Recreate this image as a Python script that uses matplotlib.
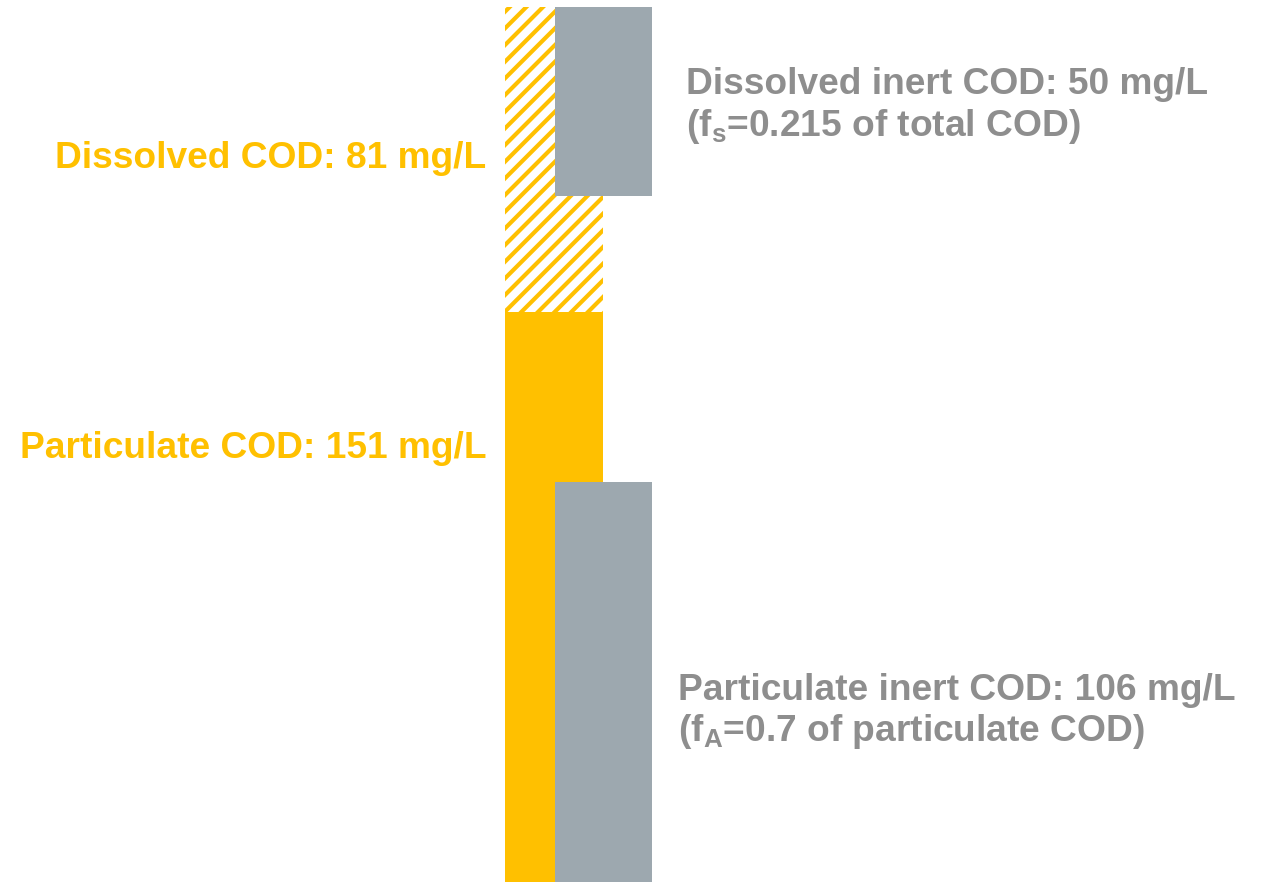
import matplotlib
matplotlib.use("Agg")
import matplotlib.pyplot as plt

plt.rcParams["font.family"] = ["Liberation Sans", "DejaVu Sans"]
plt.rcParams["mathtext.fontset"] = "custom"
plt.rcParams["mathtext.rm"] = "Liberation Sans:bold"
plt.rcParams["mathtext.bf"] = "Liberation Sans:bold"
plt.rcParams["hatch.linewidth"] = 3.0

# COD fractions, mg/L
particulate_cod = 151
dissolved_cod = 81
particulate_inert = 106
dissolved_inert = 50
f_s = 0.215
f_A = 0.7

YELLOW = "#FFC000"
GREY_BAR = "#9DA8AF"
GREY_TEXT = "#8E8E8E"

W, H = 1261, 882
fig = plt.figure(figsize=(W / 100, H / 100), dpi=100)
ax = fig.add_axes([0, 0, 1, 1])
ax.set_xlim(0, W)
total = particulate_cod + dissolved_cod
px_per_unit = 875 / total
top = total + 7 / px_per_unit
ax.set_ylim(0, top)
ax.axis("off")

# horizontal layout (pixels)
x_cod, w_cod = 505, 98
x_inert, w_inert = 555, 97

# total COD column: solid particulate part, hatched dissolved part
ax.bar(x_cod, particulate_cod, width=w_cod, bottom=0, align="edge",
       color=YELLOW, linewidth=0)
ax.bar(x_cod, dissolved_cod, width=w_cod, bottom=particulate_cod, align="edge",
       facecolor="white", edgecolor=YELLOW, hatch="//", linewidth=0)

# inert fractions
ax.bar(x_inert, particulate_inert, width=w_inert, bottom=0, align="edge",
       color=GREY_BAR, linewidth=0)
ax.bar(x_inert, dissolved_inert, width=w_inert, bottom=total - dissolved_inert,
       align="edge", color=GREY_BAR, linewidth=0)


def ypix(py):
    return (H - py) / px_per_unit


fs = 26.7
ax.text(486, ypix(168), f"Dissolved COD: {dissolved_cod} mg/L", ha="right",
        va="baseline", color=YELLOW, fontsize=fs, fontweight="bold")
ax.text(487, ypix(458), f"Particulate COD: {particulate_cod} mg/L", ha="right",
        va="baseline", color=YELLOW, fontsize=fs, fontweight="bold")

ax.text(686, ypix(94), f"Dissolved inert COD: {dissolved_inert} mg/L", ha="left",
        va="baseline", color=GREY_TEXT, fontsize=fs, fontweight="bold")
ax.text(686, ypix(136), r"(f$_{\mathrm{s}}$=" + f"{f_s} of total COD)", ha="left",
        va="baseline", color=GREY_TEXT, fontsize=fs, fontweight="bold")

ax.text(678, ypix(700), f"Particulate inert COD: {particulate_inert} mg/L", ha="left",
        va="baseline", color=GREY_TEXT, fontsize=fs, fontweight="bold")
ax.text(678, ypix(741), r"(f$_{\mathrm{A}}$=" + f"{f_A} of particulate COD)", ha="left",
        va="baseline", color=GREY_TEXT, fontsize=fs, fontweight="bold")

fig.savefig("out.png", dpi=100, facecolor="white")
